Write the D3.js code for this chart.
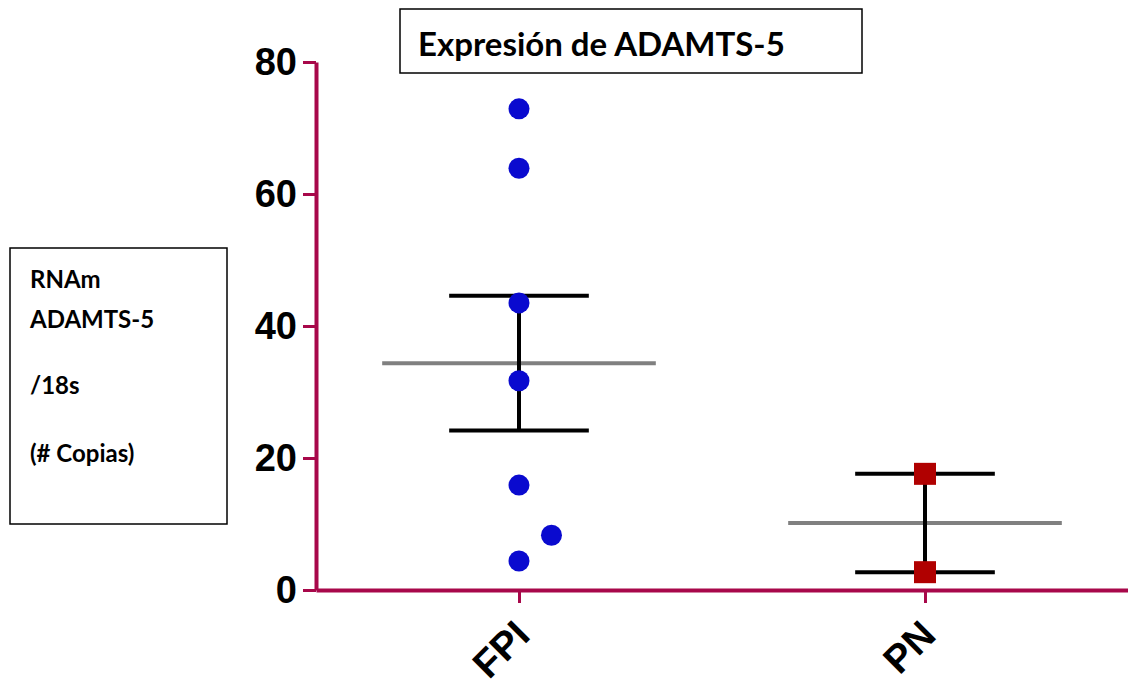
<!DOCTYPE html>
<html><head><meta charset="utf-8">
<script src="https://cdn.jsdelivr.net/npm/d3@7"></script>
<style>body{margin:0;background:#fff}svg{display:block}</style>
</head><body>
<script>
const categories = ["FPI", "PN"];
const fpiValues = [72.9, 63.9, 43.5, 31.7, 15.9, 8.3, 4.4];
const fpiJitter = [0, 0, 0, 0, 0, 0.08, 0];
const pnValues = [17.6, 2.7];
const pnJitter = [0, 0];
const yTicks = [0, 20, 40, 60, 80];
const titleText = "Expresión de ADAMTS-5";
const yLabelLines = ["RNAm", "ADAMTS-5", "/18s", "(# Copias)"];

const W = 1128, H = 688;
const axisColor = "#A8084A";
const svg = d3.select("body").append("svg").attr("width", W).attr("height", H);

const x = d3.scalePoint().domain(categories).range([316, 1128]).padding(0.5);
const y = d3.scaleLinear().domain([0, 80]).range([590, 62]);
const step = x.step();

function stats(v) {
  const m = d3.mean(v), sem = d3.deviation(v) / Math.sqrt(v.length);
  return {m, lo: m - sem, hi: m + sem};
}

// Axes
const yAx = svg.append("g").attr("transform", "translate(316,0)")
  .call(d3.axisLeft(y).tickValues(yTicks).tickSize(13).tickSizeOuter(0).tickPadding(6));
yAx.select(".domain").attr("stroke", axisColor).attr("stroke-width", 4);
yAx.selectAll(".tick line").attr("stroke", axisColor).attr("stroke-width", 3);
yAx.selectAll(".tick text").attr("fill", "#000").attr("font-family", "Liberation Sans, Arial, sans-serif")
  .attr("font-weight", "bold").attr("font-size", 38).attr("dy", "0.34em");

const xAx = svg.append("g").attr("transform", "translate(0,590)")
  .call(d3.axisBottom(x).tickSize(13).tickSizeOuter(0));
xAx.select(".domain").attr("stroke", axisColor).attr("stroke-width", 4);
xAx.selectAll(".tick line").attr("stroke", axisColor).attr("stroke-width", 3);
xAx.selectAll(".tick text")
  .attr("fill", "#000").attr("font-family", "Liberation Sans, Arial, sans-serif")
  .attr("font-weight", "bold").attr("font-size", 39)
  .attr("text-anchor", "end").attr("dy", 0)
  .attr("transform", "translate(1,36) rotate(-45)");

// Series
const groups = [
  {cat: "FPI", vals: fpiValues, jit: fpiJitter, shape: "circle", color: "#0A0ACF"},
  {cat: "PN", vals: pnValues, jit: pnJitter, shape: "square", color: "#B00000"}
];

groups.forEach(g => {
  const s = stats(g.vals);
  const cx = x(g.cat);
  svg.append("line").attr("x1", cx - step * 0.337).attr("x2", cx + step * 0.337)
    .attr("y1", y(s.m)).attr("y2", y(s.m)).attr("stroke", "#808080").attr("stroke-width", 4);
  const eb = svg.append("g").attr("stroke", "#000").attr("stroke-width", 4);
  eb.append("line").attr("x1", cx).attr("x2", cx).attr("y1", y(s.hi)).attr("y2", y(s.lo));
  [s.hi, s.lo].forEach(v => eb.append("line").attr("x1", cx - step * 0.172).attr("x2", cx + step * 0.172)
    .attr("y1", y(v)).attr("y2", y(v)));
  if (g.shape === "circle") {
    svg.selectAll(null).data(g.vals).join("circle")
      .attr("cx", (d, i) => cx + g.jit[i] * step).attr("cy", d => y(d)).attr("r", 10.5).attr("fill", g.color);
  } else {
    svg.selectAll(null).data(g.vals).join("rect")
      .attr("x", (d, i) => cx + g.jit[i] * step - 11).attr("y", d => y(d) - 11)
      .attr("width", 22).attr("height", 22).attr("fill", g.color);
  }
});

// Title box
svg.append("rect").attr("x", 400).attr("y", 9).attr("width", 462).attr("height", 64)
  .attr("fill", "#fff").attr("stroke", "#000").attr("stroke-width", 1.5);
svg.append("text").attr("x", 418).attr("y", 56).text(titleText)
  .attr("font-family", "Lato, sans-serif").attr("font-weight", "bold").attr("font-size", 33).attr("fill", "#000");

// Y label box
svg.append("rect").attr("x", 10).attr("y", 248).attr("width", 217).attr("height", 276)
  .attr("fill", "#fff").attr("stroke", "#000").attr("stroke-width", 1.5);
const lineY = [288, 328, 394, 462];
svg.append("g").selectAll("text").data(yLabelLines).join("text")
  .attr("x", 30).attr("y", (d, i) => lineY[i]).text(d => d)
  .attr("font-family", "Lato, sans-serif").attr("font-weight", "bold").attr("font-size", 24).attr("fill", "#000");
</script>
</body></html>
